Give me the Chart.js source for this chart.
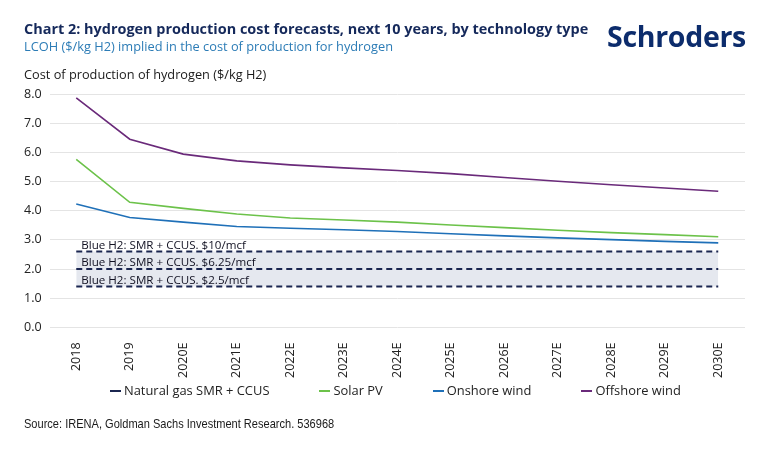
<!DOCTYPE html>
<html><head><meta charset="utf-8">
<script src="https://cdn.jsdelivr.net/npm/chart.js@4"></script>
<style>
html,body{margin:0;padding:0;background:#fff;}
#wrap{position:relative;width:770px;height:450px;overflow:hidden;background:#fff;}
canvas{position:absolute;left:0;top:0;}
.t{position:absolute;white-space:nowrap;line-height:1;}
#legend{position:absolute;left:110px;top:383px;display:flex;gap:50px;font:12.9px 'Open Sans',sans-serif;color:#222;line-height:15px;}
#legend .it{display:flex;align-items:center;}
#legend .mk{display:inline-block;width:11px;height:2px;margin-right:3px;}
</style></head><body>
<div id="wrap">
<canvas id="c" width="770" height="450"></canvas>
<div class="t" style="left:24px;top:19px;font:bold 14.45px 'Open Sans';color:#15295b">Chart 2: hydrogen production cost forecasts, next 10 years, by technology type</div>
<div class="t" style="left:24px;top:37px;font:12.8px 'Open Sans';color:#2c7cb6">LCOH ($/kg H2) implied in the cost of production for hydrogen</div>
<div class="t" style="left:24px;top:65px;font:12.75px 'Open Sans';color:#1a1a1a">Cost of production of hydrogen ($/kg H2)</div>
<div class="t" style="left:607px;top:17px;font:bold 28.5px 'Open Sans';color:#0c2c6c;letter-spacing:-0.3px">Schroders</div>
<div id="legend"></div>
<div class="t" style="left:24px;top:416px;font:13px 'Liberation Sans',sans-serif;color:#1a1a1a;transform:scaleX(0.85);transform-origin:0 0">Source: IRENA, Goldman Sachs Investment Research. 536968</div>
</div>
<script>
const categories = ['2018','2019','2020E','2021E','2022E','2023E','2024E','2025E','2026E','2027E','2028E','2029E','2030E'];
const solarPV     = [5.76, 4.29, 4.08, 3.89, 3.75, 3.68, 3.61, 3.51, 3.42, 3.33, 3.25, 3.18, 3.11];
const onshoreWind = [4.23, 3.77, 3.61, 3.46, 3.40, 3.35, 3.29, 3.21, 3.14, 3.07, 3.01, 2.95, 2.90];
const offshoreWind= [7.87, 6.45, 5.94, 5.71, 5.57, 5.47, 5.38, 5.27, 5.14, 5.01, 4.89, 4.78, 4.67];
const blueValues  = [2.6, 2.0, 1.4];
const blueLabels  = ['Blue H2: SMR + CCUS. $10/mcf', 'Blue H2: SMR + CCUS. $6.25/mcf', 'Blue H2: SMR + CCUS. $2.5/mcf'];
const yTicks      = [0, 1, 2, 3, 4, 5, 6, 7, 8];
const legendNames = ['Natural gas SMR + CCUS', 'Solar PV', 'Onshore wind', 'Offshore wind'];

const C = {navy:'#1b2650', green:'#6cc24a', blue:'#1f70b8', purple:'#6a2a7a', band:'#e5e8ef'};
const legendColors = [C.navy, C.green, C.blue, C.purple];

const lg = document.getElementById('legend');
legendNames.forEach((n,i)=>{
  const it = document.createElement('span'); it.className='it';
  const mk = document.createElement('span'); mk.className='mk'; mk.style.background=legendColors[i];
  const tx = document.createElement('span'); tx.textContent=n;
  it.appendChild(mk); it.appendChild(tx); lg.appendChild(it);
});

const blueDatasets = blueValues.map((v,i)=>({
  label: blueLabels[i],
  data: categories.map(()=>v),
  borderColor: C.navy, borderWidth: 2, borderDash: [6,4],
  pointRadius: 0, tension: 0,
  fill: i===0 ? {target: 2} : false,
  backgroundColor: C.band
}));

const lineDs = (label, data, color) => ({label, data, borderColor: color, borderWidth: 1.6, pointRadius: 0, tension: 0, fill: false});

const blueLabelPlugin = {
  id: 'blueLabels',
  afterDatasetsDraw(chart){
    const {ctx, scales:{x, y}} = chart;
    ctx.save();
    ctx.font = "11.6px 'Open Sans'";
    ctx.fillStyle = '#111122';
    ctx.textAlign = 'left';
    ctx.textBaseline = 'bottom';
    blueValues.forEach((v,i)=>{
      ctx.fillText(blueLabels[i], x.getPixelForValue(0)+5, y.getPixelForValue(v)-0.5);
    });
    ctx.restore();
  }
};

new Chart(document.getElementById('c'), {
  type: 'line',
  data: {
    labels: categories,
    datasets: [
      ...blueDatasets,
      lineDs('Solar PV', solarPV, C.green),
      lineDs('Onshore wind', onshoreWind, C.blue),
      lineDs('Offshore wind', offshoreWind, C.purple)
    ]
  },
  options: {
    responsive: false,
    animation: false,
    layout: {padding: {left: 24, right: 25, top: 94, bottom: 65}},
    plugins: {
      legend: {display: false},
      tooltip: {enabled: false},
      filler: {drawTime: 'beforeDatasetsDraw'}
    },
    scales: {
      x: {
        offset: true,
        grid: {display: false},
        border: {display: false},
        ticks: {minRotation: 90, maxRotation: 90, autoSkip: false, padding: 7, color: '#222', font: {family: 'Open Sans', size: 12.5}}
      },
      y: {
        min: yTicks[0], max: yTicks[yTicks.length-1],
        afterBuildTicks: (s) => { s.ticks = yTicks.map(v=>({value:v})); },
        afterFit: (s) => { s.width = 25.5; },
        grid: {color: '#e4e4e4', lineWidth: 1, drawTicks: false},
        border: {display: false},
        ticks: {crossAlign: 'far', padding: 8, color: '#222', font: {family: 'Open Sans', size: 12.5}, callback: (v)=>Number(v).toFixed(1)}
      }
    }
  },
  plugins: [blueLabelPlugin]
});
</script>
</body></html>
